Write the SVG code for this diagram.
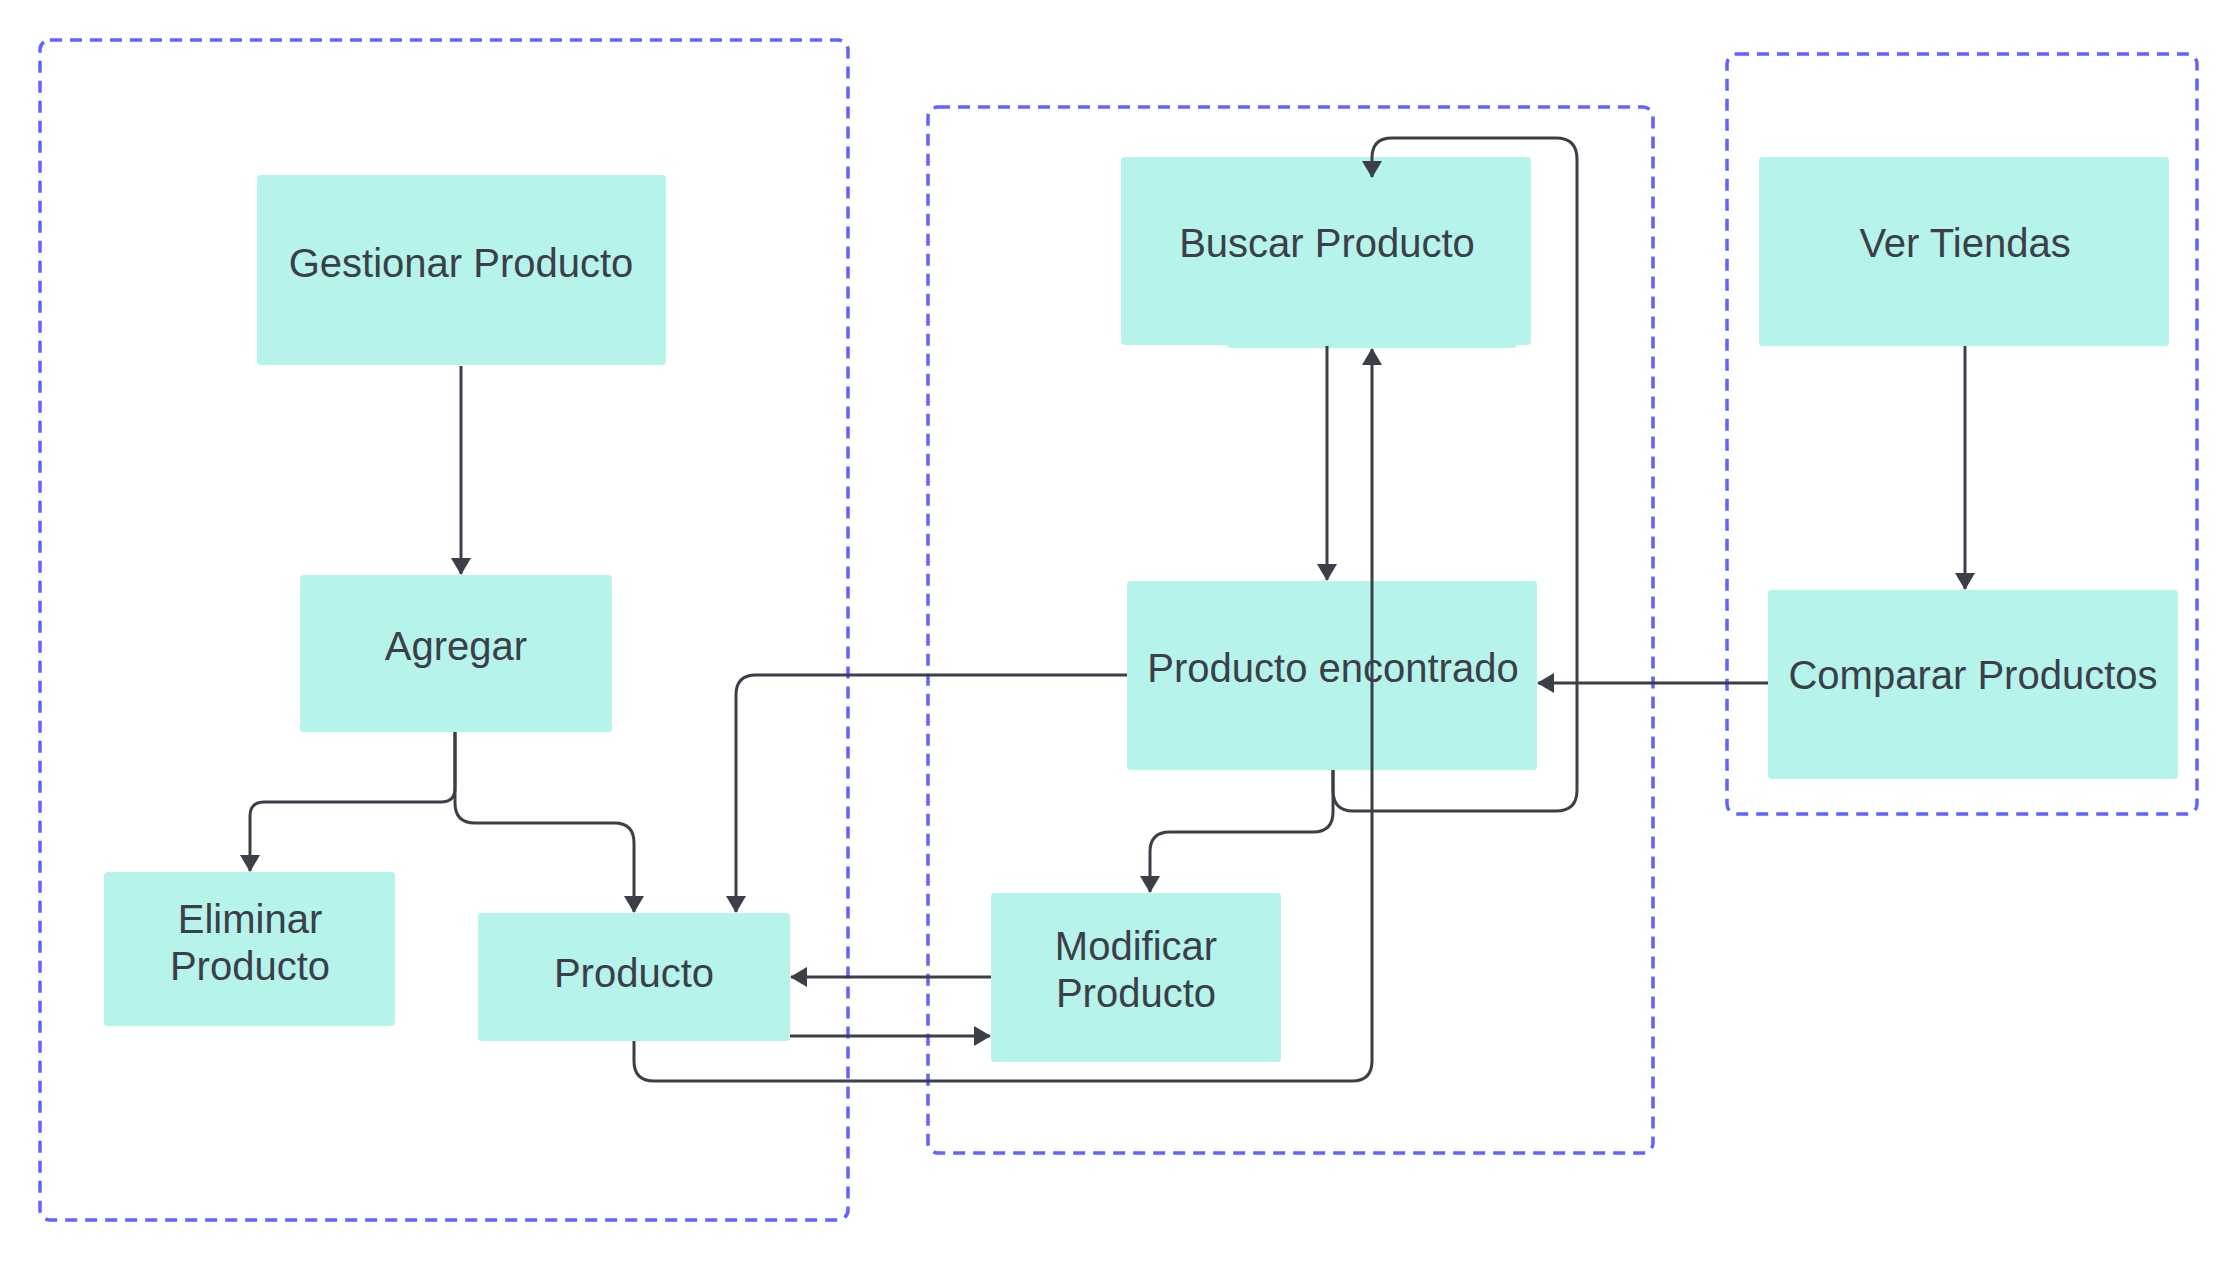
<svg xmlns="http://www.w3.org/2000/svg" width="2237" height="1261" viewBox="0 0 2237 1261">
<style>
.grp{fill:none;stroke:#6262ff;stroke-width:3.5;stroke-dasharray:12 8}
.box{fill:#b6f3eb}
.t{font-family:"Liberation Sans",Arial,sans-serif;font-size:40px;fill:#3a3f48;text-anchor:middle}
.c{fill:none;stroke:#3a3f48;stroke-width:3}
</style>
<defs>
<marker id="ah" viewBox="0 0 17 20" refX="16" refY="10" markerWidth="17" markerHeight="20" markerUnits="userSpaceOnUse" orient="auto">
<path d="M0,0 L17,10 L0,20 Z" fill="#3a3f48"/>
</marker>
</defs>
<rect width="2237" height="1261" fill="#ffffff"/>
<g id="groups">
<rect class="grp" x="40" y="40" width="808" height="1180" rx="10"/>
<rect class="grp" x="928" y="107" width="725" height="1046" rx="10"/>
<rect class="grp" x="1727" y="54" width="470" height="760" rx="10"/>
</g>
<g id="node-gestionar"><rect class="box" x="257" y="175" width="409" height="190" rx="4"/><text class="t" x="461" y="277">Gestionar Producto</text></g>
<g id="node-agregar"><rect class="box" x="300" y="575" width="312" height="157" rx="4"/><text class="t" x="456" y="660">Agregar</text></g>
<g id="node-eliminar"><rect class="box" x="104" y="872" width="291" height="154" rx="4"/><text class="t" x="250" y="933">Eliminar</text><text class="t" x="250" y="980">Producto</text></g>
<g id="node-producto"><rect class="box" x="478" y="913" width="312" height="128" rx="4"/><text class="t" x="634" y="987">Producto</text></g>
<g id="node-buscar"><rect class="box" x="1227" y="200" width="290" height="148" rx="4"/><rect class="box" x="1121" y="157" width="410" height="188" rx="4"/><text class="t" x="1327" y="257">Buscar Producto</text></g>
<g id="node-encontrado"><rect class="box" x="1127" y="581" width="410" height="189" rx="4"/><text class="t" x="1333" y="682">Producto encontrado</text></g>
<g id="node-modificar"><rect class="box" x="991" y="893" width="290" height="169" rx="4"/><text class="t" x="1136" y="960">Modificar</text><text class="t" x="1136" y="1007">Producto</text></g>
<g id="node-tiendas"><rect class="box" x="1759" y="157" width="410" height="189" rx="4"/><text class="t" x="1965" y="257">Ver Tiendas</text></g>
<g id="node-comparar"><rect class="box" x="1768" y="590" width="410" height="189" rx="4"/><text class="t" x="1973" y="689">Comparar Productos</text></g>
<g id="connectors">
<path class="c" d="M461,366 V574" marker-end="url(#ah)"/>
<path class="c" d="M455,732 V788 Q455,802 441,802 H264 Q250,802 250,816 V871" marker-end="url(#ah)"/>
<path class="c" d="M455,732 V803 Q455,823 475,823 H614 Q634,823 634,843 V912" marker-end="url(#ah)"/>
<path class="c" d="M1127,675 H756 Q736,675 736,695 V912" marker-end="url(#ah)"/>
<path class="c" d="M991,977 H791" marker-end="url(#ah)"/>
<path class="c" d="M790,1036 H990" marker-end="url(#ah)"/>
<path class="c" d="M1333,770 V812 Q1333,832 1313,832 H1170 Q1150,832 1150,852 V892" marker-end="url(#ah)"/>
<path class="c" d="M1333,770 V790 Q1333,811 1353,811 H1556 Q1577,811 1577,790 V159 Q1577,138 1556,138 H1392 Q1372,138 1372,158 V177" marker-end="url(#ah)"/>
<path class="c" d="M1327,346 V580" marker-end="url(#ah)"/>
<path class="c" d="M634,1041 V1061 Q634,1081 654,1081 H1352 Q1372,1081 1372,1061 V349" marker-end="url(#ah)"/>
<path class="c" d="M1965,346 V589" marker-end="url(#ah)"/>
<path class="c" d="M1768,683 H1538" marker-end="url(#ah)"/>
</g>
</svg>
